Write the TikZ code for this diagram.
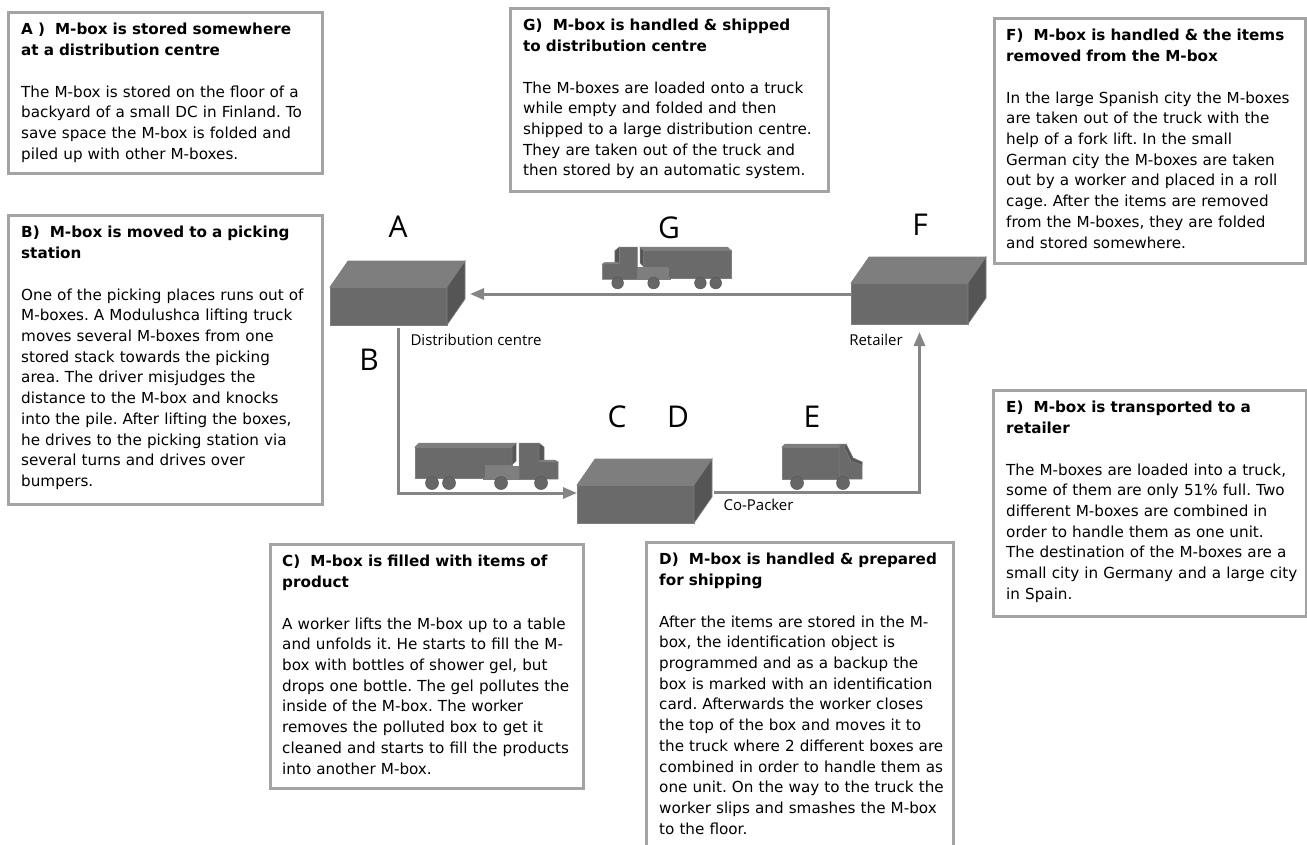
\documentclass[tikz,border=0pt]{standalone}
\usepackage{fontspec}
\setmainfont{DejaVu Sans}
\newfontfamily\labelfont{Open Sans}
\usetikzlibrary{arrows.meta}
\frenchspacing

\definecolor{boxline}{HTML}{A4A4A4}
\definecolor{flowgray}{HTML}{858585}
\definecolor{frontgray}{HTML}{6A6A6A}
\definecolor{topgray}{HTML}{7E7E7E}
\definecolor{sidegray}{HTML}{555555}
\definecolor{wheelgray}{HTML}{666666}

\tikzset{
  front/.style={fill=frontgray,draw=topgray,line width=0.6pt,inner sep=0pt,outer sep=0pt,anchor=north west,minimum width=117pt},
  topface/.style={fill=topgray,draw=topgray,line width=0.6pt},
  sideface/.style={fill=sidegray,draw=topgray,line width=0.6pt},
  truckbody/.style={fill=frontgray,draw=topgray,line width=0.5pt},
  trucktop/.style={fill=topgray,draw=topgray,line width=0.5pt},
  truckdark/.style={fill=sidegray,draw=topgray,line width=0.5pt},
  wheel/.style={fill=wheelgray,draw=sidegray,line width=0.5pt}
}

% 3D box: name, x, y (front top left), height
\newcommand{\mcrate}[4]{%
  \node[front,minimum height=#4] (#1) at (#2,#3) {};
  \filldraw[topface] (#1.north west) -- ++(18,-26) -- ++(117,0) -- (#1.north east) -- cycle;
  \filldraw[sideface] (#1.north east) -- ++(18,-26) -- ++(0,#4) -- (#1.south east) -- cycle;
}

% semi truck, rear at origin, facing +x
\newcommand{\lorry}{%
  \filldraw[trucktop] (68,-17) rectangle (130,-4);
  \filldraw[truckbody] (0,-36) -- (97,-36) -- (97,-18) -- (70,-18) -- (70,-5) -- (0,-5) -- cycle;
  \filldraw[trucktop] (0,-36) -- (4,-40) -- (101,-40) -- (97,-36) -- cycle;
  \filldraw[truckdark] (97,-36) -- (101,-40) -- (101,-22) -- (97,-18) -- cycle;
  \filldraw[truckbody] (104,-40) -- (124,-40) -- (124,-22) -- (143,-21) -- (143,-4) -- (104,-4) -- cycle;
  \filldraw[truckdark] (124,-40) -- (129,-36) -- (129,-23) -- (124,-22) -- cycle;
  \filldraw[trucktop] (124,-22) -- (129,-23) -- (140,-23) -- (143,-21) -- cycle;
  \foreach \w in {17,34,86,126} \filldraw[wheel] (\w,0) circle (6.5);
}

% van, rear at origin, facing +x
\newcommand{\vanshape}{%
  \filldraw[truckbody] (0,-36) rectangle (57,-4);
  \filldraw[trucktop] (0,-36) -- (3,-39) -- (59,-39) -- (57,-36) -- cycle;
  \filldraw[truckbody] (57,-36) -- (59,-39) -- (64,-39) -- (71,-25) -- (80,-21) -- (80,-4) -- (57,-4) -- cycle;
  \filldraw[truckdark] (64,-39) -- (71,-25) -- (80,-21) -- (80,-18) -- (69,-22) -- (62,-36) -- cycle;
  \foreach \w in {15,61} \filldraw[wheel] (\w,0) circle (6.5);
}

\begin{document}
\begin{tikzpicture}[x=1pt,y=-1pt,
  infobox/.style={draw=boxline,line width=2.5pt,fill=white,inner sep=0pt,anchor=north west},
  infotext/.style={anchor=north west,inner sep=0pt,text width=300pt,align=left,font=\fontsize{15.2}{20.7}\selectfont},
  letter/.style={font=\labelfont\fontsize{30}{30}\selectfont},
  place/.style={font=\labelfont\fontsize{15}{15}\selectfont},
  flow/.style={draw=flowgray,line width=3pt,-{Triangle[length=14pt,width=11pt]}}]

\path[use as bounding box,fill=white] (0,0) rectangle (1307,844);

% description boxes
\node[infobox,minimum width=314pt,minimum height=161pt] (boxA) at (7,11) {};
\node[infotext] (txtA) at ([shift={(14,12)}]boxA.north west) {\bfseries A )\ \ M-box is stored somewhere\\at a distribution centre\\[21pt]\mdseries
The M-box is stored on the floor of a\\backyard of a small DC in Finland. To\\save space the M-box is folded and\\piled up with other M-boxes.};

\node[infobox,minimum width=318pt,minimum height=183pt] (boxG) at (509,7) {};
\node[infotext] (txtG) at ([shift={(14,12)}]boxG.north west) {\bfseries G)\ \ M-box is handled \& shipped\\to distribution centre\\[21pt]\mdseries
The M-boxes are loaded onto a truck\\while empty and folded and then\\shipped to a large distribution centre.\\They are taken out of the truck and\\then stored by an automatic system.};

\node[infobox,minimum width=311pt,minimum height=245pt] (boxF) at (993,17) {};
\node[infotext] (txtF) at ([shift={(13,12)}]boxF.north west) {\bfseries F)\ \ M-box is handled \& the items\\removed from the M-box\\[21pt]\mdseries
In the large Spanish city the M-boxes\\are taken out of the truck with the\\help of a fork lift. In the small\\German city the M-boxes are taken\\out by a worker and placed in a roll\\cage. After the items are removed\\from the M-boxes, they are folded\\and stored somewhere.};

\node[infobox,minimum width=314pt,minimum height=289pt] (boxB) at (7,214) {};
\node[infotext] (txtB) at ([shift={(14,12)}]boxB.north west) {\bfseries B)\ \ M-box is moved to a picking\\station\\[21pt]\mdseries
One of the picking places runs out of\\M-boxes. A Modulushca lifting truck\\moves several M-boxes from one\\stored stack towards the picking\\area. The driver misjudges the\\distance to the M-box and knocks\\into the pile. After lifting the boxes,\\he drives to the picking station via\\several turns and drives over\\bumpers.};

\node[infobox,minimum width=313pt,minimum height=226pt] (boxE) at (992,389) {};
\node[infotext] (txtE) at ([shift={(14,12)}]boxE.north west) {\bfseries E)\ \ M-box is transported to a\\retailer\\[21pt]\mdseries
The M-boxes are loaded into a truck,\\some of them are only 51\% full. Two\\different M-boxes are combined in\\order to handle them as one unit.\\The destination of the M-boxes are a\\small city in Germany and a large city\\in Spain.};

\node[infobox,minimum width=313pt,minimum height=244pt] (boxC) at (269,543) {};
\node[infotext] (txtC) at ([shift={(13,12)}]boxC.north west) {\bfseries C)\ \ M-box is filled with items of\\product\\[21pt]\mdseries
A worker lifts the M-box up to a table\\and unfolds it. He starts to fill the M-\\box with bottles of shower gel, but\\drops one bottle. The gel pollutes the\\inside of the M-box. The worker\\removes the polluted box to get it\\cleaned and starts to fill the products\\into another M-box.};

\node[infobox,minimum width=307pt,minimum height=320pt] (boxD) at (645,541) {};
\node[infotext] (txtD) at ([shift={(14,12)}]boxD.north west) {\bfseries D)\ \ M-box is handled \& prepared\\for shipping\\[21pt]\mdseries
After the items are stored in the M-\\box, the identification object is\\programmed and as a backup the\\box is marked with an identification\\card. Afterwards the worker closes\\the top of the box and moves it to\\the truck where 2 different boxes are\\combined in order to handle them as\\one unit. On the way to the truck the\\worker slips and smashes the M-box\\to the floor.};

% the chain
\mcrate{dc}{330}{287}{38}
\mcrate{cp}{577}{485}{38}
\mcrate{ret}{851}{283}{41}

\coordinate (dcR) at ([xshift=23pt,yshift=12pt]dc.east);
\coordinate (cpL) at ([yshift=11pt]cp.west);
\coordinate (cpR) at ([xshift=20pt,yshift=12pt]cp.east);
\coordinate (retB) at ([xshift=10pt,yshift=-8pt]ret.south);
\draw[flow] (ret.west |- dcR) -- (dcR);
\draw[flow] ([xshift=10pt,yshift=-3pt]dc.south) |- (cpL);
\draw[flow] (cpR) -| (retB);

\begin{scope}[shift={(415,483)}]\lorry\end{scope}
\begin{scope}[shift={(731,283)},xscale=-0.9,yscale=0.9]\lorry\end{scope}
\begin{scope}[shift={(782,483)}]\vanshape\end{scope}

\node[letter] (labA) at (398,227) {A};
\node[letter] (labG) at (669,228) {G};
\node[letter] (labF) at (920,225) {F};
\node[letter] (labB) at (369,360) {B};
\node[letter] (labC) at (617,417) {C};
\node[letter] (labD) at (678,417) {D};
\node[letter] (labE) at (812,417) {E};

\node[place,anchor=west] (dcname) at (407,340) {Distribution centre};
\node[place] (retname) at (876,340) {Retailer};
\node[place,anchor=west] (cpname) at (720,505) {Co-Packer};
\end{tikzpicture}
\end{document}
